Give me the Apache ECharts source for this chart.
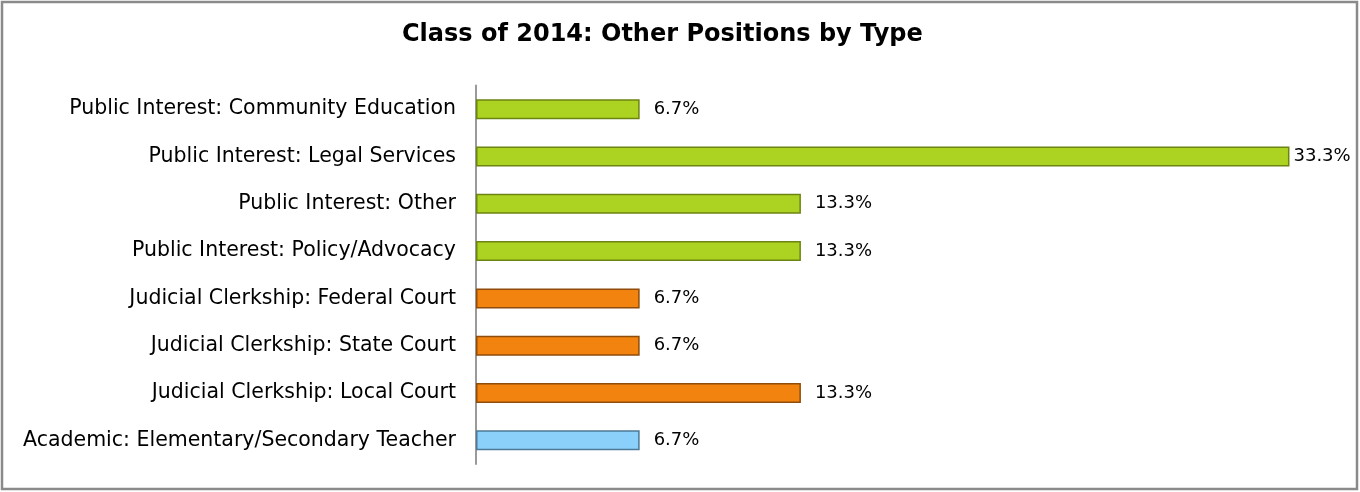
<!DOCTYPE html>
<html>
<head>
<meta charset="utf-8">
<script src="https://cdn.jsdelivr.net/npm/echarts@6/dist/echarts.min.js"></script>
<style>
html,body{margin:0;padding:0;background:#fff;}
#c{width:1360px;height:492px;}
</style>
</head>
<body>
<div id="c"></div>
<script>
const categories = [
  'Public Interest: Community Education',
  'Public Interest: Legal Services',
  'Public Interest: Other',
  'Public Interest: Policy/Advocacy',
  'Judicial Clerkship: Federal Court',
  'Judicial Clerkship: State Court',
  'Judicial Clerkship: Local Court',
  'Academic: Elementary/Secondary Teacher'
];
const values = [6.7, 33.3, 13.3, 13.3, 6.7, 6.7, 13.3, 6.7];
const groups = ['pi', 'pi', 'pi', 'pi', 'jc', 'jc', 'jc', 'ac'];
const titleText = 'Class of 2014: Other Positions by Type';

const FONT = 'DejaVu Sans';
const palette = {
  pi: { fill: '#acd321', border: '#6c8412' },
  jc: { fill: '#f2830f', border: '#8f4c0a' },
  ac: { fill: '#8ad0fb', border: '#4d7896' }
};

const chart = echarts.init(document.getElementById('c'), null, { renderer: 'canvas' });
chart.setOption({
  animation: false,
  title: {
    text: titleText,
    left: 397, top: 18,
    textStyle: { fontFamily: FONT, fontWeight: 'bold', fontSize: 24, color: '#000' }
  },
  graphic: [{
    type: 'rect', shape: { x: 2, y: 2, width: 1355, height: 487 },
    style: { fill: 'none', stroke: '#8a8a8a', lineWidth: 2.5 }, silent: true
  }],
  grid: { left: 476, top: 85.5, height: 378.5, width: 855 },
  xAxis: {
    type: 'value', min: 0, max: 35, show: false, splitLine: { show: false }
  },
  yAxis: {
    type: 'category', data: categories, inverse: true,
    axisLine: { show: true, lineStyle: { color: '#9a9a9a', width: 2 } },
    axisTick: { show: false },
    axisLabel: { margin: 20, fontFamily: FONT, fontSize: 20.5, color: '#000' }
  },
  series: [{
    type: 'bar',
    barWidth: 20,
    data: values.map((v, i) => ({
      value: v,
      itemStyle: { color: palette[groups[i]].fill, borderColor: palette[groups[i]].border, borderWidth: 1.5 },
      label: { distance: v > 30 ? 4 : 14 }
    })),
    label: {
      show: true, position: 'right',
      fontFamily: FONT, fontSize: 18, color: '#000',
      formatter: p => p.value.toFixed(1) + '%'
    }
  }]
});
</script>
</body>
</html>
